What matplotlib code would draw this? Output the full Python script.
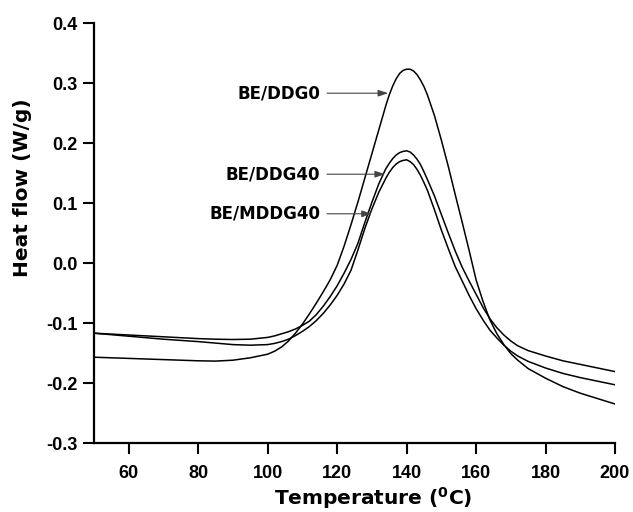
import matplotlib
matplotlib.use("Agg")
import matplotlib.pyplot as plt

# DSC heat flow curves (W/g) read at these temperatures (deg C)
temps = [50, 60, 70, 80, 85, 90, 95,
         100, 102, 104, 106, 108, 110, 112, 114, 116, 118, 120, 122, 124, 126,
         128, 130, 132, 134,
         135, 136, 137, 138, 139, 140, 141, 142, 143, 144, 145, 146,
         148, 150, 152, 154, 156, 158, 160, 162, 164, 166, 168, 170, 172,
         175, 180, 185, 190, 195, 200]

ddg0 = [-0.157, -0.159, -0.161, -0.163, -0.1635, -0.162, -0.158,
        -0.152, -0.147, -0.140, -0.130, -0.117, -0.102, -0.085, -0.067, -0.048,
        -0.028, -0.004, 0.028, 0.064, 0.102, 0.142, 0.182, 0.222, 0.262,
        0.280, 0.295, 0.307, 0.316, 0.321, 0.323, 0.323, 0.320, 0.314, 0.305,
        0.294, 0.280,
        0.246, 0.205, 0.161, 0.114, 0.068, 0.021, -0.028, -0.064, -0.095,
        -0.118, -0.136, -0.151, -0.162,
        -0.176, -0.192, -0.206, -0.217, -0.226, -0.235]

ddg40 = [-0.117, -0.120, -0.123, -0.126, -0.127, -0.1275, -0.127,
         -0.124, -0.1215, -0.118, -0.1145, -0.110, -0.104, -0.097, -0.086,
         -0.072, -0.056, -0.038, -0.017, 0.006, 0.033, 0.068, 0.101, 0.132, 0.157,
         0.166, 0.174, 0.180, 0.184, 0.186, 0.187, 0.185, 0.180, 0.173, 0.164,
         0.152, 0.139,
         0.112, 0.081, 0.050, 0.020, -0.007, -0.030, -0.052, -0.074, -0.093,
         -0.108, -0.120, -0.130, -0.138,
         -0.146, -0.155, -0.163, -0.169, -0.175, -0.181]

mddg40 = [-0.117, -0.122, -0.127, -0.131, -0.1335, -0.136, -0.137,
          -0.136, -0.134, -0.131, -0.127, -0.121, -0.114, -0.106, -0.096,
          -0.084, -0.070, -0.054, -0.035, -0.012, 0.022, 0.058, 0.090, 0.118, 0.141,
          0.151, 0.159, 0.165, 0.169, 0.171, 0.172, 0.169, 0.164, 0.156, 0.146,
          0.134, 0.121,
          0.089, 0.055, 0.024, -0.006, -0.030, -0.054, -0.076, -0.095, -0.112,
          -0.125, -0.137, -0.147, -0.155,
          -0.164, -0.175, -0.184, -0.191, -0.197, -0.203]

labels = ["BE/DDG0", "BE/DDG40", "BE/MDDG40"]
arrow_tips = [(134.7, 0.283), (133.8, 0.148), (130.0, 0.082)]
label_right = 115.1

x_ticks = [60, 80, 100, 120, 140, 160, 180, 200]
y_ticks = [-0.3, -0.2, -0.1, 0.0, 0.1, 0.2, 0.3, 0.4]

plt.rcParams["mathtext.fontset"] = "custom"
plt.rcParams["mathtext.bf"] = "DejaVu Sans:bold"
plt.rcParams["mathtext.rm"] = "DejaVu Sans:bold"

fig = plt.figure(figsize=(6.33, 5.12), dpi=100)
ax = fig.add_axes([94 / 633, 1 - 443 / 512, (615 - 94) / 633, (443 - 23) / 512])

for series in (ddg0, ddg40, mddg40):
    ax.plot(temps, series, color="black", lw=1.1, solid_joinstyle="round")

for text, (tx, ty) in zip(labels, arrow_tips):
    ax.annotate(text, xy=(tx, ty), xytext=(label_right, ty),
                ha="right", va="center", fontsize=12, fontweight="bold",
                family="DejaVu Sans",
                arrowprops=dict(arrowstyle="-|>,head_length=0.6,head_width=0.2",
                                color="#444444", lw=0.8, shrinkA=3, shrinkB=0,
                                mutation_scale=10))

ax.set_xlim(50, 200)
ax.set_ylim(-0.3, 0.4)
ax.set_xticks(x_ticks)
ax.set_yticks(y_ticks)
ax.set_yticklabels([f"{v:.1f}" for v in y_ticks])

for side in ("top", "right"):
    ax.spines[side].set_visible(False)
for side in ("left", "bottom"):
    ax.spines[side].set_linewidth(1.6)

ax.tick_params(axis="both", direction="out", length=8, width=1.5)
ax.tick_params(axis="x", pad=8)
ax.tick_params(axis="y", pad=4)
for lab in ax.get_xticklabels() + ax.get_yticklabels():
    lab.set_fontfamily("Liberation Sans")
    lab.set_fontweight("bold")
    lab.set_fontsize(13)

fig.text(373 / 633, 7 / 512, r"Temperature ($\mathbf{^0}$C)", ha="center",
         va="baseline", fontsize=14.5, fontweight="bold", family="DejaVu Sans")
fig.text(22.5 / 633, 1 - 187.5 / 512, "Heat flow (W/g)", ha="center", va="center",
         rotation=90, fontsize=14.5, fontweight="bold", family="DejaVu Sans")

fig.savefig("out.png", dpi=100)
